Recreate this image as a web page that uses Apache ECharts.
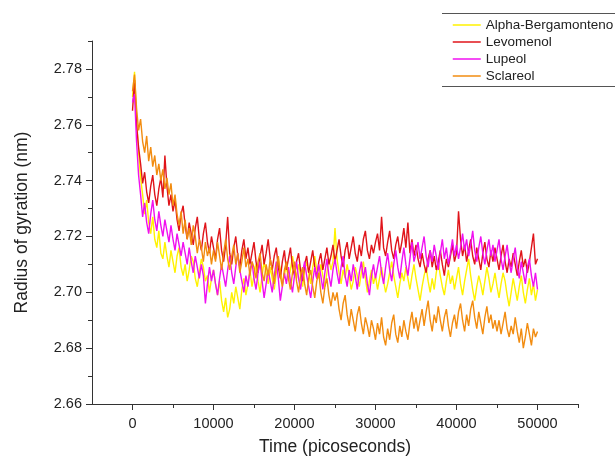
<!DOCTYPE html>
<html>
<head>
<meta charset="utf-8">
<script src="https://cdn.jsdelivr.net/npm/echarts@6/dist/echarts.min.js"></script>
<style>html,body{margin:0;padding:0;background:#fff;}#chart{width:615px;height:461px;}</style>
</head>
<body>
<div id="chart"></div>
<script>
// Sampling grid: one value every 250 ps from 0 to 50000 ps
const timeStep = 250;
const seriesNames = ['Alpha-Bergamonteno', 'Levomenol', 'Lupeol', 'Sclareol'];
const xTickLabels = [0, 10000, 20000, 30000, 40000, 50000];
const xMinorTicks = [5000, 15000, 25000, 35000, 45000, 55000];
const yTickLabels = [2.66, 2.68, 2.70, 2.72, 2.74, 2.76, 2.78];
const yMinorTicks = [2.67, 2.69, 2.71, 2.73, 2.75, 2.77, 2.79];

const alphaBergamonteno = [
2.770,2.779,2.763,2.750,2.741,2.735,2.728,2.733,2.725,2.721,2.727,2.719,2.716,2.722,2.714,2.712,2.718,2.713,2.709,2.715,
2.711,2.707,2.713,2.716,2.709,2.706,2.710,2.704,2.708,2.713,2.711,2.705,2.702,2.707,2.712,2.709,2.704,2.706,2.700,2.705,
2.708,2.703,2.699,2.704,2.697,2.693,2.698,2.691,2.694,2.700,2.696,2.702,2.698,2.694,2.701,2.705,2.699,2.703,2.708,2.702,
2.706,2.710,2.704,2.700,2.706,2.711,2.707,2.703,2.709,2.705,2.701,2.707,2.712,2.708,2.703,2.706,2.710,2.704,2.708,2.713,
2.709,2.705,2.710,2.706,2.702,2.708,2.711,2.707,2.703,2.709,2.713,2.708,2.705,2.710,2.706,2.702,2.707,2.712,2.708,2.711,
2.723,2.712,2.707,2.703,2.708,2.705,2.710,2.706,2.701,2.704,2.709,2.706,2.702,2.707,2.711,2.705,2.700,2.704,2.708,2.703,
2.706,2.701,2.705,2.709,2.704,2.700,2.703,2.707,2.711,2.706,2.702,2.698,2.703,2.707,2.704,2.709,2.705,2.701,2.706,2.710,
2.705,2.701,2.697,2.702,2.706,2.709,2.704,2.700,2.705,2.701,2.707,2.711,2.706,2.702,2.699,2.704,2.708,2.703,2.706,2.701,
2.705,2.709,2.703,2.699,2.704,2.708,2.712,2.706,2.701,2.697,2.702,2.706,2.703,2.699,2.704,2.709,2.705,2.700,2.703,2.707,
2.702,2.698,2.703,2.707,2.704,2.699,2.695,2.700,2.705,2.701,2.697,2.702,2.706,2.700,2.696,2.701,2.705,2.699,2.703,2.697,
2.701];

const levomenol = [
2.765,2.776,2.760,2.752,2.746,2.739,2.743,2.736,2.732,2.738,2.742,2.735,2.731,2.737,2.741,2.734,2.749,2.738,2.731,2.735,
2.729,2.733,2.726,2.722,2.728,2.731,2.724,2.719,2.725,2.721,2.717,2.723,2.727,2.719,2.715,2.721,2.725,2.718,2.714,2.720,
2.716,2.712,2.719,2.723,2.715,2.711,2.717,2.727,2.714,2.710,2.716,2.720,2.713,2.709,2.715,2.719,2.712,2.716,2.710,2.714,
2.718,2.711,2.707,2.713,2.717,2.710,2.714,2.719,2.712,2.708,2.713,2.716,2.709,2.705,2.711,2.715,2.708,2.712,2.716,2.709,
2.706,2.711,2.714,2.708,2.704,2.710,2.713,2.707,2.711,2.715,2.709,2.705,2.711,2.714,2.708,2.712,2.716,2.710,2.713,2.717,
2.711,2.715,2.719,2.713,2.709,2.715,2.718,2.712,2.716,2.720,2.714,2.711,2.717,2.713,2.719,2.722,2.715,2.712,2.717,2.714,
2.718,2.721,2.715,2.727,2.716,2.713,2.718,2.722,2.715,2.712,2.717,2.720,2.714,2.718,2.723,2.716,2.725,2.714,2.719,2.713,
2.717,2.712,2.709,2.714,2.710,2.707,2.712,2.715,2.709,2.713,2.708,2.711,2.715,2.710,2.706,2.712,2.709,2.713,2.717,2.711,
2.714,2.729,2.719,2.713,2.717,2.711,2.715,2.719,2.713,2.710,2.716,2.712,2.708,2.714,2.718,2.712,2.709,2.715,2.711,2.716,
2.712,2.708,2.713,2.717,2.711,2.707,2.712,2.709,2.714,2.710,2.706,2.711,2.715,2.709,2.712,2.707,2.711,2.716,2.721,2.710,
2.712];

const lupeol = [
2.768,2.771,2.754,2.742,2.735,2.727,2.732,2.725,2.721,2.728,2.733,2.726,2.722,2.729,2.724,2.720,2.726,2.722,2.718,2.724,
2.719,2.715,2.721,2.717,2.713,2.718,2.714,2.710,2.716,2.711,2.707,2.713,2.709,2.705,2.710,2.706,2.696,2.703,2.709,2.704,
2.708,2.703,2.699,2.705,2.710,2.706,2.702,2.708,2.713,2.707,2.703,2.709,2.714,2.708,2.704,2.700,2.706,2.702,2.708,2.711,
2.705,2.701,2.707,2.711,2.704,2.698,2.703,2.708,2.704,2.700,2.706,2.711,2.705,2.697,2.702,2.707,2.703,2.709,2.704,2.700,
2.706,2.711,2.705,2.701,2.707,2.711,2.706,2.702,2.698,2.704,2.709,2.705,2.710,2.706,2.701,2.707,2.712,2.706,2.702,2.708,
2.712,2.707,2.703,2.709,2.713,2.706,2.702,2.708,2.704,2.710,2.706,2.701,2.707,2.711,2.705,2.709,2.703,2.699,2.706,2.710,
2.705,2.709,2.713,2.707,2.703,2.709,2.714,2.708,2.704,2.710,2.715,2.709,2.705,2.711,2.716,2.710,2.706,2.712,2.718,2.711,
2.714,2.718,2.712,2.716,2.720,2.713,2.709,2.715,2.711,2.717,2.713,2.708,2.714,2.719,2.712,2.716,2.710,2.714,2.719,2.713,
2.717,2.712,2.716,2.721,2.715,2.719,2.713,2.717,2.722,2.715,2.711,2.716,2.720,2.714,2.710,2.715,2.719,2.713,2.717,2.711,
2.715,2.719,2.712,2.708,2.713,2.717,2.711,2.707,2.712,2.716,2.709,2.705,2.711,2.707,2.703,2.709,2.712,2.706,2.702,2.707,
2.701];

const sclareol = [
2.772,2.778,2.766,2.758,2.762,2.754,2.750,2.756,2.747,2.752,2.745,2.749,2.742,2.746,2.740,2.744,2.737,2.741,2.735,2.739,
2.731,2.735,2.728,2.724,2.729,2.721,2.726,2.719,2.723,2.717,2.724,2.720,2.714,2.719,2.716,2.711,2.718,2.713,2.716,2.710,
2.715,2.711,2.718,2.713,2.708,2.714,2.719,2.712,2.708,2.713,2.717,2.710,2.714,2.707,2.711,2.716,2.709,2.712,2.706,2.711,
2.709,2.705,2.711,2.714,2.707,2.704,2.710,2.706,2.712,2.708,2.703,2.709,2.713,2.706,2.702,2.708,2.711,2.705,2.701,2.707,
2.711,2.704,2.700,2.706,2.709,2.703,2.699,2.705,2.708,2.702,2.698,2.704,2.707,2.700,2.696,2.702,2.705,2.699,2.695,2.700,
2.697,2.700,2.694,2.690,2.696,2.699,2.692,2.688,2.694,2.690,2.686,2.692,2.695,2.689,2.685,2.691,2.688,2.684,2.690,2.687,
2.683,2.689,2.685,2.691,2.684,2.681,2.687,2.683,2.689,2.692,2.685,2.682,2.688,2.684,2.690,2.686,2.683,2.689,2.693,2.687,
2.691,2.686,2.690,2.694,2.688,2.693,2.697,2.690,2.686,2.692,2.689,2.695,2.690,2.686,2.691,2.694,2.688,2.684,2.689,2.692,
2.687,2.693,2.696,2.690,2.686,2.692,2.688,2.694,2.697,2.691,2.687,2.693,2.689,2.685,2.691,2.695,2.689,2.692,2.687,2.690,
2.686,2.690,2.685,2.689,2.693,2.687,2.684,2.688,2.685,2.691,2.686,2.682,2.687,2.680,2.684,2.689,2.685,2.681,2.687,2.684,
2.686];

const seriesValues = [alphaBergamonteno, levomenol, lupeol, sclareol];
const seriesColors = ['#FFF200', '#E0141A', '#F010F0', '#F28C10'];

function pairs(vals) {
  return vals.map((v, i) => [i * timeStep, v]);
}

const FONT = '"Liberation Sans", Arial, sans-serif';
const chart = echarts.init(document.getElementById('chart'), null, {renderer: 'canvas'});

const option = {
  animation: false,
  backgroundColor: '#ffffff',
  grid: {left: 92, right: 37, top: 41, bottom: 56},
  legend: {
    orient: 'vertical',
    left: 452,
    top: 18,
    padding: 0,
    itemWidth: 28,
    itemHeight: 14,
    itemGap: 3,
    data: seriesNames,
    itemStyle: {color: 'rgba(0,0,0,0)', borderWidth: 0, opacity: 0},
    lineStyle: {width: 1.5},
    textStyle: {fontFamily: FONT, fontSize: 13.5, color: '#222'}
  },
  xAxis: [{
    type: 'value',
    min: -5000, max: 55000,
    position: 'bottom',
    axisLine: {onZero: false, lineStyle: {color: '#333', width: 1}},
    axisTick: {customValues: xTickLabels, length: 6, lineStyle: {color: '#333'}},
    axisLabel: {customValues: xTickLabels, formatter: v => String(Math.round(v)), fontFamily: FONT, fontSize: 14.5, color: '#222', margin: 12},
    splitLine: {show: false},
    name: 'Time (picoseconds)',
    nameLocation: 'middle',
    nameGap: 34,
    nameTextStyle: {fontFamily: FONT, fontSize: 17.5, color: '#222'}
  }, {
    type: 'value',
    min: -5000, max: 55000,
    position: 'bottom',
    axisLine: {show: false, onZero: false},
    axisTick: {customValues: xMinorTicks, length: 4, lineStyle: {color: '#333'}},
    axisLabel: {show: false},
    splitLine: {show: false}
  }],
  yAxis: [{
    type: 'value',
    min: 2.66, max: 2.79,
    position: 'left',
    axisLine: {show: true, onZero: false, lineStyle: {color: '#333', width: 1}},
    axisTick: {show: true, customValues: yTickLabels, length: 6, lineStyle: {color: '#333'}},
    axisLabel: {customValues: yTickLabels, formatter: v => v.toFixed(2), fontFamily: FONT, fontSize: 14.5, color: '#222', margin: 10},
    splitLine: {show: false},
    name: 'Radius of gyration (nm)',
    nameLocation: 'middle',
    nameRotate: 90,
    nameGap: 61,
    nameTextStyle: {fontFamily: FONT, fontSize: 17.5, color: '#222'}
  }, {
    type: 'value',
    min: 2.66, max: 2.79,
    position: 'left',
    axisLine: {show: false, onZero: false},
    axisTick: {show: true, customValues: yMinorTicks, length: 4, lineStyle: {color: '#333'}},
    axisLabel: {show: false},
    splitLine: {show: false}
  }],
  graphic: [
    {type: 'line', shape: {x1: 442, y1: 13.5, x2: 615, y2: 13.5}, style: {stroke: '#555', lineWidth: 1}},
    {type: 'line', shape: {x1: 442, y1: 86.5, x2: 615, y2: 86.5}, style: {stroke: '#555', lineWidth: 1}}
  ],
  series: seriesNames.map((name, k) => ({
    name: name,
    type: 'line',
    xAxisIndex: 0,
    yAxisIndex: 0,
    data: pairs(seriesValues[k]),
    showSymbol: false,
    symbol: 'none',
    color: seriesColors[k],
    lineStyle: {color: seriesColors[k], width: 1.4},
    z: 2 + k
  }))
};
chart.setOption(option);
</script>
</body>
</html>
